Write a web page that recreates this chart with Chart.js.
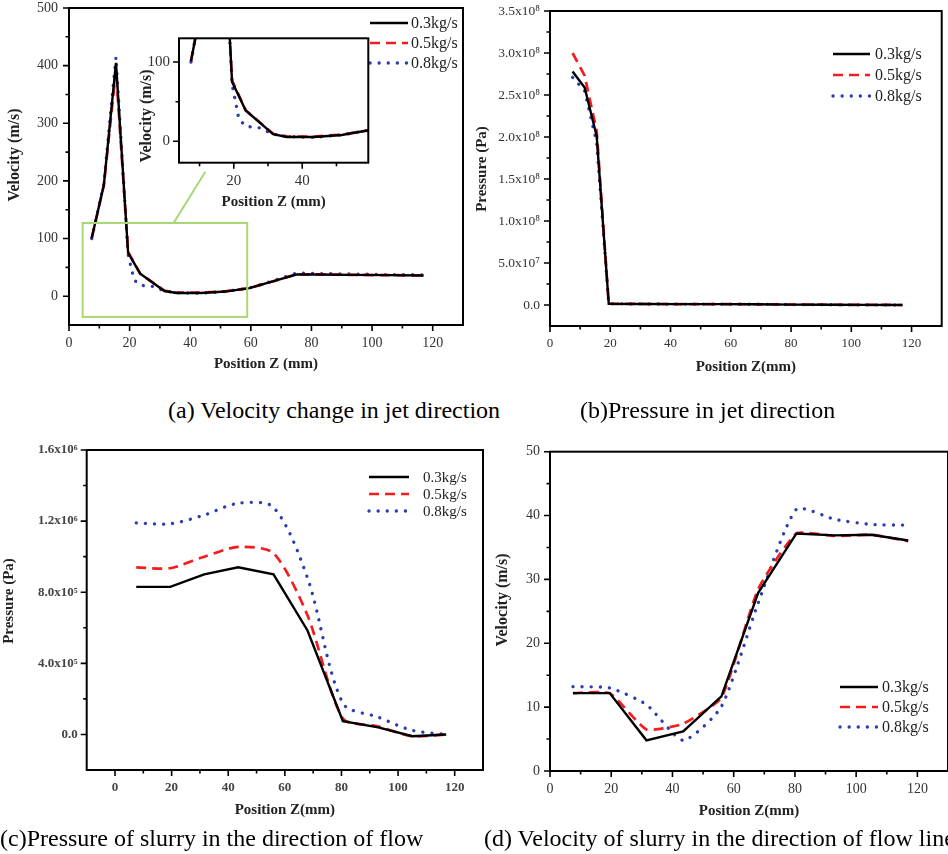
<!DOCTYPE html>
<html>
<head>
  <title>Jet and slurry flow along Z</title>
  <script src="https://cdn.jsdelivr.net/npm/chart.js"></script>
  <style>
    body {
      margin: 0;
      background: #fff;
      font-family: "Liberation Serif", "Times New Roman", serif;
    }
    #page {
      position: relative;
      width: 948px;
      height: 854px;
      overflow: hidden;
    }
    canvas {
      position: absolute;
    }
    .caption {
      position: absolute;
      font-size: 24px;
      line-height: 28px;
      white-space: nowrap;
      color: #000;
    }
  </style>
</head>
<body>
<div id="page">
  <canvas id="chartA"></canvas>
  <canvas id="chartB"></canvas>
  <canvas id="chartC"></canvas>
  <canvas id="chartD"></canvas>
  <canvas id="insetA"></canvas>

  <div class="caption" style="left:168px; top:396px">(a) Velocity change in jet direction</div>
  <div class="caption" style="left:580px; top:396px">(b)Pressure in jet direction</div>
  <div class="caption" style="left:0px; top:824px">(c)Pressure of slurry in the direction of flow</div>
  <div class="caption" style="left:484px; top:824px">(d) Velocity of slurry in the direction of flow line</div>
</div>

<script>
  const massFlows = ['0.3kg/s', '0.5kg/s', '0.8kg/s'];

  // (a) velocity along the jet axis (m/s)
  const jetZ     = [7.5, 11.5, 15.5, 19.5, 21.5, 23.5, 27.5, 31.5, 35.5, 43.5, 51.5, 59.5, 67.5, 75, 81, 93, 105, 117];
  const jetVel03 = [101, 193, 405, 75, null, 39, null, 9, 5.5, 5.5, 8, 14, 26, 37.5, 37.5, 37, 36.5, 36];
  const jetVel05 = [101, 193, 392, 77, null, 39, null, 9.5, 6, 6, 8.5, 14, 26, 38, 38, 37, 36.5, 36];
  const jetVel08 = [100, 195, 415, 72, 28, 19, 17, 9, 6, 5, 8, 14, 27, 40, 39.5, 38.5, 37.5, 37];

  // zoomed window shown in the inset, and the leader line to it
  const zoomBoxZ = [4.5, 58.8];
  const zoomBoxV = [-36, 127];
  const zoomLink = [[34.5, 127], [45, 216]];

  // (b) pressure along the jet axis (Pa)
  const jetPZ   = [7.5, 11.5, 15.5, 19.5, 31.5, 43.5, 56, 68, 80.5, 93, 105, 117];
  const jetP03  = [2.78e8, 2.59e8, 2.01e8, 1.5e6, 1.2e6, 1.1e6, 1.0e6, 0.9e6, 0.5e6, 0.3e6, 0.1e6, 0];
  const jetP05  = [3.0e8, 2.73e8, 2.07e8, 1.5e6, 1.2e6, 1.1e6, 1.0e6, 0.9e6, 0.5e6, 0.3e6, 0.1e6, 0];
  const jetP08  = [2.71e8, 2.55e8, 1.93e8, 1.5e6, 1.2e6, 1.1e6, 1.0e6, 0.9e6, 0.5e6, 0.3e6, 0.1e6, 0];

  // (c) slurry pressure and (d) slurry velocity along the flow line
  const slurryZ   = [7.5, 19.5, 31.5, 43.5, 56, 68, 80.5, 93, 105, 117];
  const slurryP03 = [8.3e5, 8.3e5, 9.0e5, 9.4e5, 9.0e5, 5.85e5, 0.75e5, 0.4e5, -0.1e5, 0];
  const slurryP05 = [9.4e5, 9.35e5, 1.0e6, 1.055e6, 1.02e6, 6.7e5, 0.9e5, 0.45e5, -0.1e5, 0];
  const slurryP08 = [1.19e6, 1.185e6, 1.234e6, 1.30e6, 1.277e6, 8.8e5, 1.76e5, 0.97e5, 0.23e5, 0];
  const slurryV03 = [12.2, 12.2, 4.8, 6.2, 11.7, 27.9, 37.2, 36.9, 37.0, 36.1];
  const slurryV05 = [12.2, 12.2, 6.5, 7.4, 11.5, 28.5, 37.2, 36.8, 37.0, 36.0];
  const slurryV08 = [13.2, 13.0, 10.4, 4.8, 10.1, 26.3, 41.0, 39.4, 38.6, 38.5];

  // tick values (labelled majors, unlabelled minors)
  const zMajor       = [0, 20, 40, 60, 80, 100, 120];
  const zMinor       = [10, 30, 50, 70, 90, 110];
  const jetVelMajor  = [0, 100, 200, 300, 400, 500];
  const jetVelMinor  = [50, 150, 250, 350, 450];
  const jetPMajor    = [0, 5e7, 1e8, 1.5e8, 2e8, 2.5e8, 3e8, 3.5e8];
  const jetPMinor    = [2.5e7, 7.5e7, 1.25e8, 1.75e8, 2.25e8, 2.75e8, 3.25e8];
  const slurryPMajor = [0, 4e5, 8e5, 1.2e6, 1.6e6];
  const slurryPMinor = [2e5, 6e5, 1e6, 1.4e6];
  const slurryVMajor = [0, 10, 20, 30, 40, 50];
  const slurryVMinor = [5, 15, 25, 35, 45];
  const insetZMajor  = [20, 40];
  const insetZMinor  = [10, 30, 50];
  const insetVMajor  = [0, 100];
  const insetVMinor  = [50];

  Chart.defaults.font.family = "'Liberation Serif', 'Times New Roman', serif";
  Chart.defaults.color = '#333';

  const seriesStyle = [
    { borderColor: '#000000', borderWidth: 2.4 },
    { borderColor: '#f41c1c', borderWidth: 2.7, borderDash: [10, 6] },
    { borderColor: '#2d3bb0', borderWidth: 3.3, borderDash: [0.1, 9], borderCapStyle: 'round' }
  ];

  function makeSets(xs, ys, tension) {
    return ys.map((vals, i) => Object.assign({
      label: massFlows[i],
      data: xs.map((x, j) => ({ x: x, y: vals[j] })),
      pointRadius: 0,
      spanGaps: true,
      fill: false,
      tension: tension ? tension[i] : 0
    }, seriesStyle[i]));
  }

  const supDigits = ['⁰', '¹', '²', '³', '⁴', '⁵', '⁶', '⁷', '⁸', '⁹'];
  function sciLabel(v) {
    if (v === 0) return '0.0';
    const e = Math.floor(Math.log10(Math.abs(v)) + 1e-9);
    const m = v / Math.pow(10, e);
    return m.toFixed(1) + 'x10' + String(e).split('').map(d => supDigits[+d]).join('');
  }
  const plainLabel = v => String(v);

  function makeAxis(o) {
    const horizontal = o.dir === 'x';
    return {
      type: 'linear',
      min: o.min,
      max: o.max,
      border: { display: false },
      // tick marks are drawn by the frame plugin (long majors, short minors)
      grid: { display: false, drawTicks: false },
      ticks: {
        padding: o.tickPad,
        autoSkip: false,
        maxRotation: 0,
        font: { size: o.tickSize || 13, weight: o.tickWeight || 'normal' },
        color: o.tickColor || '#333',
        callback: v => o.major.includes(v) ? o.fmt(v) : ''
      },
      // the vertical title is drawn by the axisTitle plugin so it can sit off-centre
      title: {
        display: horizontal,
        text: o.title,
        color: '#222',
        font: { size: o.titleSize || 15, weight: 'bold' },
        padding: { top: 0, bottom: o.titlePad || 0 }
      },
      afterBuildTicks: s => {
        s.ticks = o.major.concat(o.minor).sort((a, b) => a - b).map(v => ({ value: v }));
      },
      afterFit: s => {
        if (horizontal) s.height = o.size; else s.width = o.size;
        s.paddingTop = s.paddingBottom = s.paddingLeft = s.paddingRight = 0;
      }
    };
  }

  // closed black frame round the plot area with outward ticks; optional white fill for the inset
  const framePlugin = {
    id: 'frame',
    beforeDatasetsDraw(chart, args, o) {
      if (!o.fill) return;
      const a = chart.chartArea, ctx = chart.ctx;
      ctx.save();
      ctx.fillStyle = '#fff';
      ctx.fillRect(a.left, a.top, a.right - a.left, a.bottom - a.top);
      ctx.restore();
    },
    afterDraw(chart) {
      const a = chart.chartArea, ctx = chart.ctx;
      const xs = chart.scales.x, ys = chart.scales.y;
      ctx.save();
      ctx.strokeStyle = '#000';
      ctx.lineWidth = 1.6;
      ctx.beginPath();
      xs.ticks.forEach(t => {
        const px = xs.getPixelForValue(t.value);
        ctx.moveTo(px, a.bottom);
        ctx.lineTo(px, a.bottom + (t.label ? 6 : 3.5));
      });
      ys.ticks.forEach(t => {
        const py = ys.getPixelForValue(t.value);
        ctx.moveTo(a.left, py);
        ctx.lineTo(a.left - (t.label ? 6 : 3.5), py);
      });
      ctx.stroke();
      ctx.lineWidth = 2;
      ctx.strokeRect(a.left, a.top, a.right - a.left, a.bottom - a.top);
      ctx.restore();
    }
  };

  // rotated y-axis title at a given spot
  const axisTitle = {
    id: 'axisTitle',
    afterDraw(chart, args, o) {
      if (!o.text) return;
      const ctx = chart.ctx;
      ctx.save();
      ctx.translate(o.x, o.y);
      ctx.rotate(-Math.PI / 2);
      ctx.fillStyle = '#222';
      ctx.font = 'bold ' + o.size + "px 'Liberation Serif', serif";
      ctx.textAlign = 'center';
      ctx.textBaseline = 'middle';
      ctx.fillText(o.text, 0, 0);
      ctx.restore();
    }
  };

  // line-sample legend drawn inside the plot
  const lineLegend = {
    id: 'lineLegend',
    afterDraw(chart, args, o) {
      if (!o.rows) return;
      const ctx = chart.ctx;
      chart.data.datasets.forEach((ds, i) => {
        const y = o.rows[i];
        ctx.save();
        ctx.strokeStyle = ds.borderColor;
        ctx.lineWidth = ds.borderWidth;
        ctx.lineCap = ds.borderCapStyle || 'butt';
        ctx.setLineDash(ds.borderDash || []);
        ctx.beginPath();
        ctx.moveTo(o.x, y);
        ctx.lineTo(o.x + o.len, y);
        ctx.stroke();
        ctx.setLineDash([]);
        ctx.fillStyle = '#222';
        ctx.font = o.size + "px 'Liberation Serif', serif";
        ctx.textBaseline = 'middle';
        ctx.fillText(ds.label, o.textX, y + 1);
        ctx.restore();
      });
    }
  };

  // green box marking the zoomed window, plus its leader line
  const zoomMark = {
    id: 'zoomMark',
    afterDatasetsDraw(chart, args, o) {
      if (!o.z) return;
      const xs = chart.scales.x, ys = chart.scales.y, ctx = chart.ctx;
      const l = xs.getPixelForValue(o.z[0]), r = xs.getPixelForValue(o.z[1]);
      const t = ys.getPixelForValue(o.v[1]), b = ys.getPixelForValue(o.v[0]);
      ctx.save();
      ctx.strokeStyle = '#a8d874';
      ctx.lineWidth = 2;
      ctx.strokeRect(l, t, r - l, b - t);
      ctx.beginPath();
      ctx.moveTo(xs.getPixelForValue(o.link[0][0]), ys.getPixelForValue(o.link[0][1]));
      ctx.lineTo(xs.getPixelForValue(o.link[1][0]), ys.getPixelForValue(o.link[1][1]));
      ctx.stroke();
      ctx.restore();
    }
  };

  Chart.register(framePlugin, axisTitle, lineLegend, zoomMark);

  function makeChart(id, box, area, xAxis, yAxis, sets, extra) {
    const cv = document.getElementById(id);
    cv.width = box.w;
    cv.height = box.h;
    cv.style.left = box.x + 'px';
    cv.style.top = box.y + 'px';
    return new Chart(cv, {
      type: 'line',
      data: { datasets: sets },
      options: {
        responsive: false,
        animation: false,
        events: [],
        layout: { padding: { left: 0, top: area.top, right: box.w - area.right, bottom: 0 } },
        scales: { x: xAxis, y: yAxis },
        plugins: Object.assign({ legend: { display: false }, tooltip: { enabled: false } }, extra)
      }
    });
  }

  // (a) main
  makeChart('chartA', { x: 0, y: 0, w: 480, h: 380 }, { top: 8, right: 463 },
    makeAxis({ dir: 'x', min: 0, max: 130, major: zMajor, minor: zMinor, fmt: plainLabel,
      title: 'Position Z (mm)', titlePad: 7, tickPad: 10, size: 55, tickSize: 14 }),
    makeAxis({ dir: 'y', min: -50, max: 500, major: jetVelMajor, minor: jetVelMinor, fmt: plainLabel,
      tickPad: 11, size: 69, tickSize: 14 }),
    makeSets(jetZ, [jetVel03, jetVel05, jetVel08]),
    {
      axisTitle: { text: 'Velocity (m/s)', x: 15, y: 155, size: 16 },
      lineLegend: { x: 370, len: 38, textX: 411, rows: [23, 43, 63], size: 16 },
      zoomMark: { z: zoomBoxZ, v: zoomBoxV, link: zoomLink }
    });

  // (a) inset
  makeChart('insetA', { x: 138, y: 34, w: 236, h: 178 }, { top: 4.3, right: 230.3 },
    makeAxis({ dir: 'x', min: 4, max: 59.3, major: insetZMajor, minor: insetZMinor, fmt: plainLabel,
      title: 'Position Z (mm)', titlePad: 1, tickPad: 9, size: 49.3, tickSize: 15 }),
    makeAxis({ dir: 'y', min: -27, max: 130, major: insetVMajor, minor: insetVMinor, fmt: plainLabel,
      tickPad: 9, size: 41, tickSize: 15 }),
    makeSets(jetZ, [jetVel03, jetVel05, jetVel08]),
    {
      frame: { fill: true },
      axisTitle: { text: 'Velocity (m/s)', x: 9, y: 82, size: 16 }
    });

  // (b)
  makeChart('chartB', { x: 466, y: 0, w: 482, h: 380 }, { top: 11, right: 475.7 },
    makeAxis({ dir: 'x', min: 0, max: 130, major: zMajor, minor: zMinor, fmt: plainLabel,
      title: 'Position Z(mm)', titlePad: 4, tickPad: 10, size: 54 }),
    makeAxis({ dir: 'y', min: -2.5e7, max: 3.5e8, major: jetPMajor, minor: jetPMinor, fmt: sciLabel,
      tickPad: 10, size: 84, tickSize: 13.5 }),
    makeSets(jetPZ, [jetP03, jetP05, jetP08]),
    {
      axisTitle: { text: 'Pressure (Pa)', x: 16, y: 169, size: 15 },
      lineLegend: { x: 367, len: 37, textX: 409, rows: [54, 75, 96], size: 16 }
    });

  // (c)
  makeChart('chartC', { x: 0, y: 430, w: 490, h: 395 }, { top: 20, right: 483 },
    makeAxis({ dir: 'x', min: -10, max: 130, major: zMajor, minor: zMinor, fmt: plainLabel,
      title: 'Position Z(mm)', titlePad: 6, tickPad: 10, size: 55, tickWeight: 'bold', tickColor: '#444' }),
    makeAxis({ dir: 'y', min: -2e5, max: 1.6e6, major: slurryPMajor, minor: slurryPMinor, fmt: sciLabel,
      tickPad: 9, size: 86.7, tickWeight: 'bold', tickColor: '#444' }),
    makeSets(slurryZ, [slurryP03, slurryP05, slurryP08], [0, 0.25, 0.3]),
    {
      axisTitle: { text: 'Pressure (Pa)', x: 9, y: 171, size: 15 },
      lineLegend: { x: 369, len: 40, textX: 423, rows: [47, 64, 81], size: 15 }
    });

  // (d)
  makeChart('chartD', { x: 480, y: 430, w: 468, h: 395 }, { top: 21.7, right: 468 },
    makeAxis({ dir: 'x', min: 0, max: 130, major: zMajor, minor: zMinor, fmt: plainLabel,
      title: 'Position Z(mm)', titlePad: 5, tickPad: 10, size: 54, tickSize: 14 }),
    makeAxis({ dir: 'y', min: 0, max: 50, major: slurryVMajor, minor: slurryVMinor, fmt: plainLabel,
      tickPad: 10, size: 70, tickSize: 14 }),
    makeSets(slurryZ, [slurryV03, slurryV05, slurryV08], [0, 0.15, 0.2]),
    {
      axisTitle: { text: 'Velocity (m/s)', x: 23, y: 170, size: 16 },
      lineLegend: { x: 360, len: 38, textX: 402, rows: [257, 277, 297], size: 16 }
    });
</script>
</body>
</html>
